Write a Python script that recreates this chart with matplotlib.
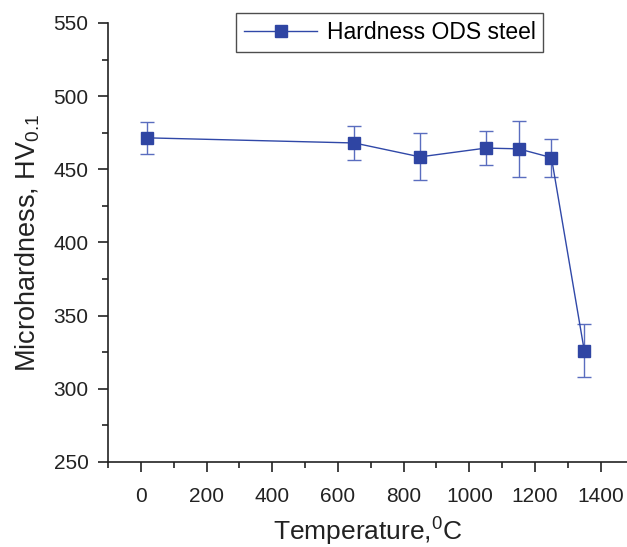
import matplotlib
matplotlib.use('Agg')
import matplotlib.pyplot as plt
from matplotlib.ticker import MultipleLocator

plt.rcParams['font.family'] = ['Liberation Sans', 'DejaVu Sans']
plt.rcParams['mathtext.fontset'] = 'custom'
plt.rcParams['mathtext.rm'] = 'Liberation Sans'
plt.rcParams['mathtext.it'] = 'Liberation Sans'
plt.rcParams['mathtext.default'] = 'regular'

temperature = [20, 650, 850, 1050, 1150, 1250, 1350]
hardness = [471.5, 468, 458.5, 464.5, 464, 458, 326]
hardness_err = [11, 11.5, 16, 11.5, 19, 13, 18]

series_label = 'Hardness ODS steel'
x_label = r'Temperature,$^{0}$C'
y_label = r'Microhardness, HV$_{0.1}$'

fig = plt.figure(figsize=(6.27, 5.47), dpi=100)
ax = fig.add_axes([0.1722, 0.1554, 0.8278, 0.8026])

ax.errorbar(temperature, hardness, yerr=hardness_err, fmt='none',
            ecolor='#5a6dbf', elinewidth=1.0, capsize=5, capthick=1.0, zorder=2)
ax.plot(temperature, hardness, color='#3048a8', linewidth=1.0, marker='s',
        markersize=9, markerfacecolor='#2f45a3', markeredgecolor='#2f45a3',
        label=series_label, zorder=3)

ax.set_xlim(-100, 1480)
ax.set_ylim(250, 550)
ax.xaxis.set_major_locator(MultipleLocator(200))
ax.xaxis.set_minor_locator(MultipleLocator(100))
ax.yaxis.set_major_locator(MultipleLocator(50))
ax.yaxis.set_minor_locator(MultipleLocator(25))

for side in ['top', 'right']:
    ax.spines[side].set_visible(False)
for side in ['left', 'bottom']:
    ax.spines[side].set_linewidth(1.2)
    ax.spines[side].set_color('#222222')

ax.tick_params(axis='both', which='major', direction='out', length=7, width=1.2,
               labelsize=15, colors='#222222')
ax.tick_params(axis='both', which='minor', direction='out', length=4, width=1.2,
               colors='#222222')
ax.tick_params(axis='x', which='major', pad=11)
ax.tick_params(axis='y', which='major', pad=7)

ax.set_xlabel(x_label, fontsize=19, color='#222222', labelpad=7)
ax.set_ylabel(y_label, fontsize=19.5, color='#222222', labelpad=8)

leg = ax.legend(loc='upper left', bbox_to_anchor=(236 / 627, 1 - 13 / 547),
                bbox_transform=fig.transFigure, fontsize=16.5, frameon=True,
                fancybox=False, handlelength=3.2, handletextpad=0.4,
                borderpad=0.35, borderaxespad=0)
leg.get_frame().set_edgecolor('#222222')
leg.get_frame().set_linewidth(1.0)

fig.savefig('out.png', dpi=100)
